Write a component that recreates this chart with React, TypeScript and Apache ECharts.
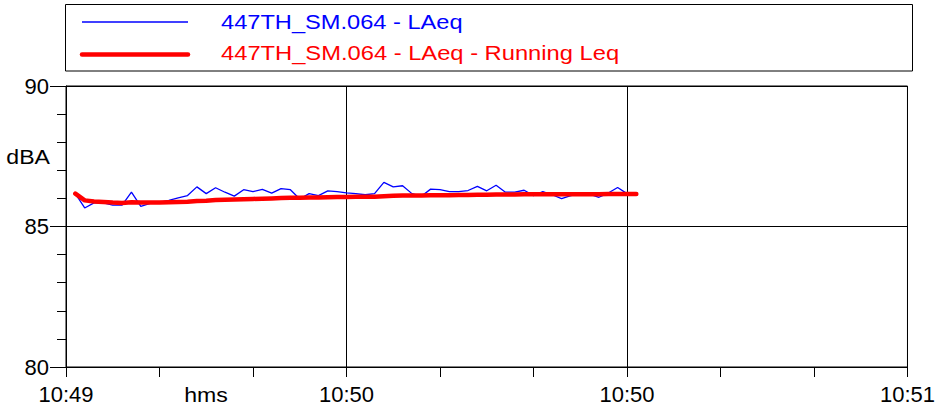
import React, { useEffect, useRef } from "react";
import * as echarts from "echarts";

// seconds after 10:49:30 of the first sample; one sample per second
const startSec = 1;
const xTickLabels = ["10:49", "10:50", "10:50", "10:51"];
const yTicks = [80, 85, 90];

const laeq = [
  86.17, 85.66, 85.84, 85.84, 85.76, 85.76, 86.22, 85.72, 85.82, 85.86,
  85.93, 86.02, 86.1, 86.41, 86.17, 86.38, 86.22, 86.08, 86.31, 86.24,
  86.32, 86.19, 86.35, 86.31, 85.98, 86.17, 86.1, 86.27, 86.24, 86.2,
  86.17, 86.13, 86.17, 86.57, 86.41, 86.45, 86.17, 86.08, 86.33, 86.31,
  86.24, 86.24, 86.28, 86.43, 86.27, 86.47, 86.22, 86.22, 86.29, 86.1,
  86.24, 86.13, 85.99, 86.1, 86.15, 86.15, 86.04, 86.19, 86.39, 86.17,
];

const runningLeq = [
  86.17, 85.93, 85.89, 85.87, 85.85, 85.84, 85.86, 85.85, 85.85, 85.85,
  85.86, 85.87, 85.88, 85.91, 85.92, 85.94, 85.95, 85.96, 85.97, 85.98,
  85.99, 86.0, 86.01, 86.02, 86.02, 86.03, 86.03, 86.04, 86.05, 86.05,
  86.06, 86.06, 86.06, 86.08, 86.09, 86.1, 86.1, 86.1, 86.11, 86.11,
  86.11, 86.12, 86.12, 86.13, 86.13, 86.14, 86.14, 86.14, 86.15, 86.15,
  86.15, 86.15, 86.15, 86.15, 86.15, 86.15, 86.15, 86.16, 86.16, 86.16,
  86.16,
];

const seriesNames = ["447TH_SM.064 - LAeq", "447TH_SM.064 - LAeq - Running Leq"];
const FONT = "'Liberation Sans', Arial, sans-serif";

export default function App() {
  const ref = useRef<HTMLDivElement>(null);
  useEffect(() => {
    if (!ref.current) return;
    const chart = echarts.init(ref.current, undefined, { renderer: "svg" });
    const blueData = laeq.map((v, i) => [startSec + i, v]);
    const redData = runningLeq.map((v, i) => [startSec + i, v]);
    chart.setOption({
      animation: false,
      backgroundColor: "#ffffff",
      grid: {
        left: 66,
        top: 86,
        width: 847,
        height: 281,
        show: true,
        borderColor: "#000",
        borderWidth: 1,
        backgroundColor: "transparent",
      },
      xAxis: {
        type: "value",
        min: 0,
        max: 90,
        interval: 30,
        axisLine: { show: true, onZero: false, lineStyle: { color: "#000", width: 1 } },
        axisTick: { show: true, inside: false, length: 10, lineStyle: { color: "#000" } },
        minorTick: { show: true, splitNumber: 3, length: 10, lineStyle: { color: "#000" } },
        splitLine: { show: true, lineStyle: { color: "#000", width: 1 } },
        axisLabel: {
          show: true,
          margin: 16,
          color: "#000",
          fontSize: 22,
          fontFamily: FONT,
          formatter: (v: number) => xTickLabels[Math.round(v / 30)] ?? "",
        },
      },
      yAxis: {
        type: "value",
        min: yTicks[0],
        max: yTicks[yTicks.length - 1],
        interval: 5,
        axisLine: { show: true, onZero: false, lineStyle: { color: "#000", width: 1 } },
        axisTick: { show: true, inside: false, length: 16, lineStyle: { color: "#000" } },
        minorTick: { show: true, splitNumber: 5, length: 9, lineStyle: { color: "#000" } },
        splitLine: { show: true, lineStyle: { color: "#000", width: 1 } },
        axisLabel: {
          show: true,
          margin: 17,
          color: "#000",
          fontSize: 22,
          fontFamily: FONT,
        },
      },
      series: [
        {
          name: seriesNames[0],
          type: "line",
          data: blueData,
          showSymbol: false,
          symbol: "none",
          lineStyle: { color: "#0000ff", width: 1.3 },
          z: 2,
        },
        {
          name: seriesNames[1],
          type: "line",
          data: redData,
          showSymbol: false,
          symbol: "none",
          lineStyle: { color: "#ff0000", width: 4.5, cap: "round", join: "round" },
          z: 3,
        },
      ],
      graphic: [
        {
          type: "rect",
          shape: { x: 65.5, y: 4.5, width: 847, height: 66.5 },
          style: { fill: "#fff", stroke: "#000", lineWidth: 1 },
          z: 10,
        },
        {
          type: "line",
          shape: { x1: 82, y1: 22, x2: 188, y2: 22 },
          style: { stroke: "#0000ff", lineWidth: 1.3 },
          z: 11,
        },
        {
          type: "line",
          shape: { x1: 82, y1: 54.5, x2: 188, y2: 54.5 },
          style: { stroke: "#ff0000", lineWidth: 4.5, lineCap: "round" },
          z: 11,
        },
        {
          type: "text",
          x: 221,
          y: 22,
          scaleX: 1.125,
          style: {
            text: seriesNames[0],
            fill: "#0000ff",
            font: `21px ${FONT}`,
            verticalAlign: "middle",
            align: "left",
          },
          z: 11,
        },
        {
          type: "text",
          x: 221,
          y: 53,
          scaleX: 1.13,
          style: {
            text: seriesNames[1],
            fill: "#ff0000",
            font: `21px ${FONT}`,
            verticalAlign: "middle",
            align: "left",
          },
          z: 11,
        },
        {
          type: "text",
          x: 50,
          y: 157,
          scaleX: 1.1,
          style: {
            text: "dBA",
            fill: "#000",
            font: `21px ${FONT}`,
            verticalAlign: "middle",
            align: "right",
          },
          z: 11,
        },
        {
          type: "text",
          x: 206,
          y: 395,
          scaleX: 1.1,
          style: {
            text: "hms",
            fill: "#000",
            font: `21px ${FONT}`,
            verticalAlign: "middle",
            align: "center",
          },
          z: 11,
        },
      ],
    });
    return () => chart.dispose();
  }, []);
  return (
    <div
      ref={ref}
      style={{ position: "fixed", left: 0, top: 0, width: 938, height: 412, background: "#fff" }}
    />
  );
}
